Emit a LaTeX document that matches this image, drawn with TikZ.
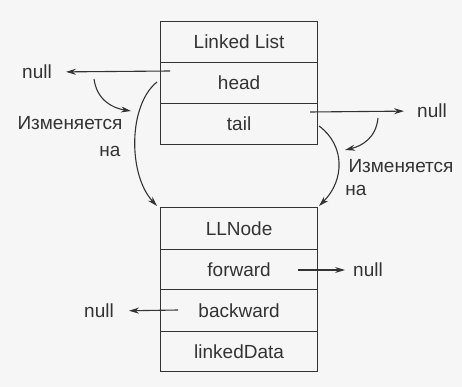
\documentclass[tikz,border=0pt]{standalone}
\usepackage{fontspec}
\setmainfont{Liberation Sans}
\usetikzlibrary{arrows.meta}
\definecolor{ink}{gray}{0.2}
\begin{document}
\begin{tikzpicture}[x=1pt,y=-1pt,
  cell/.style={draw=ink, line width=1.2pt, minimum width=157pt, inner sep=0pt, anchor=north west, text=ink, font=\fontsize{19}{22}\selectfont},
  lbl/.style={inner sep=0pt, text=ink, font=\fontsize{19}{22}\selectfont},
  arr/.style={draw=ink, line width=1.1pt, -{Stealth[length=10pt,width=6pt]}}]
\fill[gray!7] (0,0) rectangle (462,387);
\useasboundingbox (0,0) rectangle (462,387);
% Linked List box
\node[cell, minimum height=41pt] (ll) at (160,21) {Linked List};
\node[cell, minimum height=41pt] (head) at (160,62) {head};
\node[cell, minimum height=41pt] (tail) at (160,103) {tail};
% LLNode box
\node[cell, minimum height=42pt] (lln) at (160,207) {LLNode};
\node[cell, minimum height=40pt] (fwd) at (160,249) {forward};
\node[cell, minimum height=42pt] (bwd) at (160,289) {backward};
\node[cell, minimum height=40pt] (data) at (160,331) {linkedData};
% labels
\node[lbl] (n1) at (37,72) {null};
\node[lbl] (n2) at (432,111) {null};
\node[lbl] (n3) at (368,270) {null};
\node[lbl] (n4) at (99,311) {null};
\node[lbl] (c1) at (70,123) {Изменяется};
\node[lbl] (c1b) at (110,151) {на};
\node[lbl] (c2) at (401,166) {Изменяется};
\node[lbl] (c2b) at (356,190) {на};
% coordinates
\coordinate (h1) at (170,71);
\coordinate (t1) at (310,112);
\coordinate (f1) at (298,270);
\coordinate (b1) at (178,310);
\coordinate (hs) at (157,82);
\coordinate (he) at (157,206);
\coordinate (ts) at (319,126);
\coordinate (te) at (319,206);
\coordinate (m1s) at (94,79);
\coordinate (m1e) at (131,111);
\coordinate (m2s) at (378,118);
\coordinate (m2e) at (345,150);
% arrows
\draw[arr, shorten >=14pt] (h1) -- (n1.east);
\draw[arr, shorten >=13pt] (t1) -- (n2.west);
\draw[arr, shorten >=8pt] (f1) -- (n3.west);
\draw[arr, shorten >=15pt] (b1) -- (n4.east);
\draw[arr] (hs) .. controls (128,105) and (128,175) .. (he);
\draw[arr] (ts) .. controls (345,145) and (345,180) .. (te);
\draw[arr] (m1s) .. controls (97,100) and (112,108) .. (m1e);
\draw[arr] (m2s) .. controls (376,138) and (362,146) .. (m2e);
\end{tikzpicture}
\end{document}
